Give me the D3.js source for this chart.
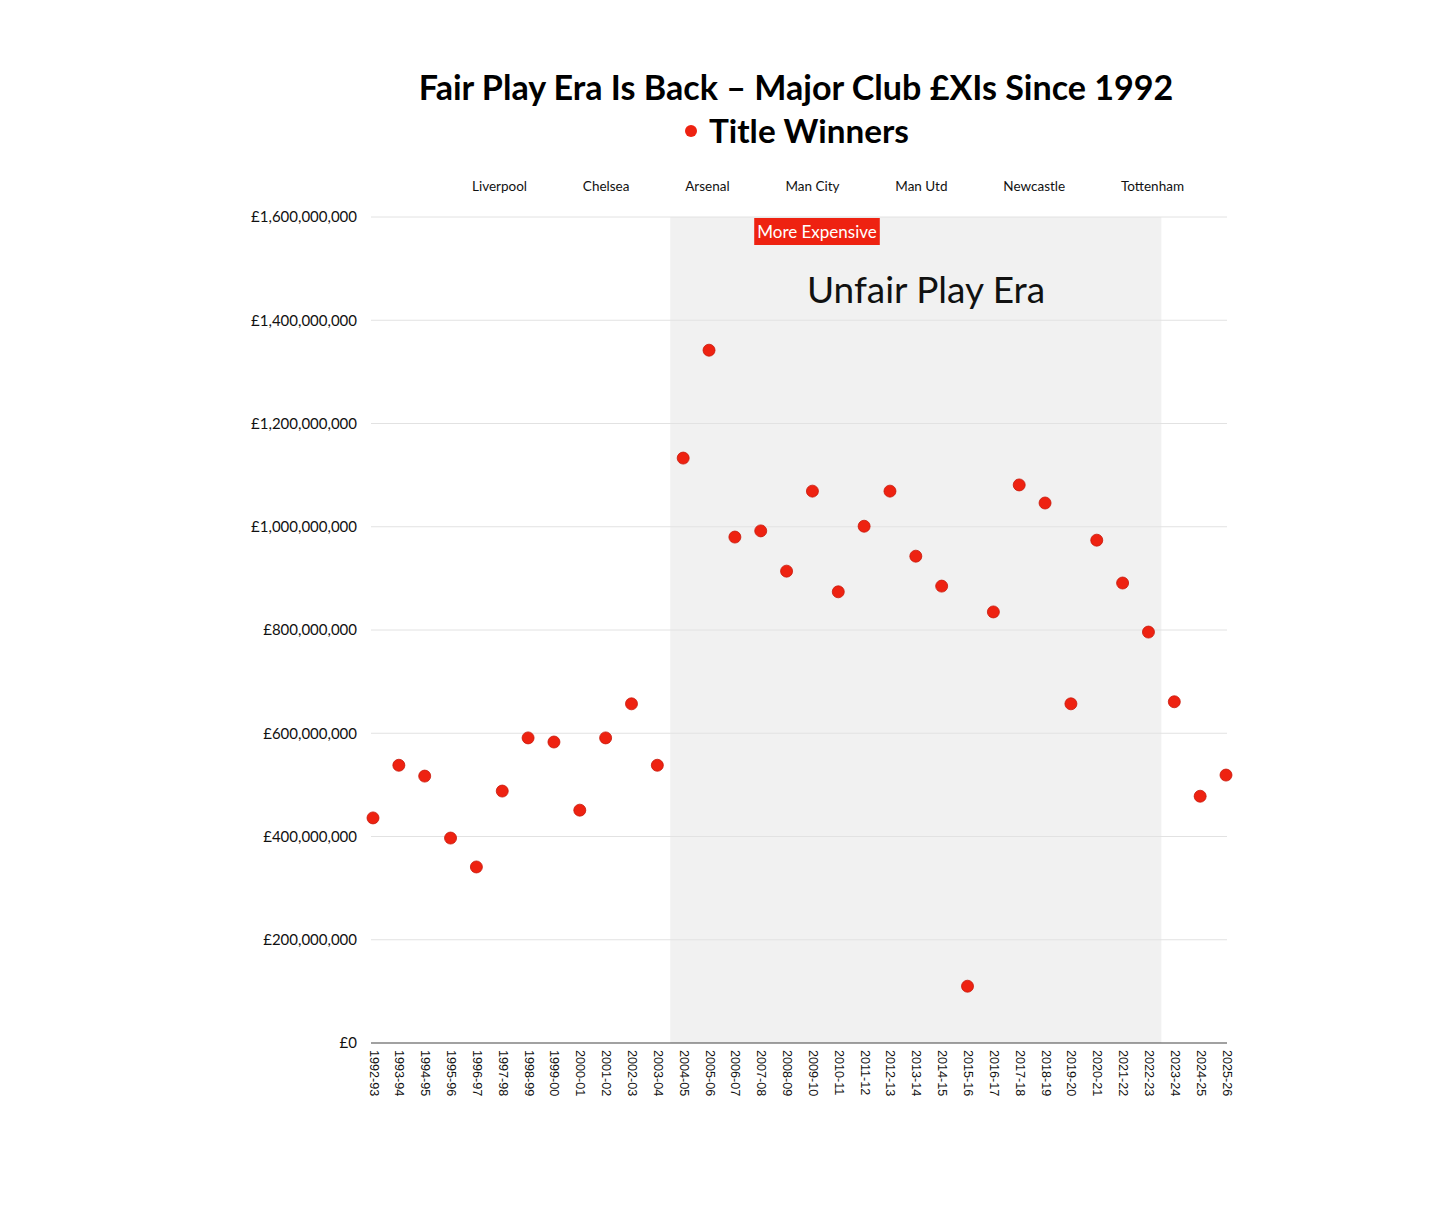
<!DOCTYPE html>
<html><head><meta charset="utf-8">
<script src="https://cdn.jsdelivr.net/npm/d3@7"></script>
<style>
html,body{margin:0;padding:0;background:#fff;}
svg{display:block;font-family:Lato,"Noto Sans",sans-serif;}
</style></head>
<body>
<svg id="chart" width="1456" height="1229"></svg>
<script>
const seasons = ["1992-93","1993-94","1994-95","1995-96","1996-97","1997-98","1998-99","1999-00","2000-01","2001-02","2002-03","2003-04","2004-05","2005-06","2006-07","2007-08","2008-09","2009-10","2010-11","2011-12","2012-13","2013-14","2014-15","2015-16","2016-17","2017-18","2018-19","2019-20","2020-21","2021-22","2022-23","2023-24","2024-25","2025-26"];
const xiValues = [436e6,538e6,517e6,397e6,341e6,488e6,591e6,583e6,451e6,591e6,657e6,538e6,1133e6,1342e6,980e6,992e6,914e6,1069e6,874e6,1001e6,1069e6,943e6,885e6,110e6,835e6,1081e6,1046e6,657e6,974e6,891e6,796e6,661e6,478e6,519e6];
const clubs = ["Liverpool","Chelsea","Arsenal","Man City","Man Utd","Newcastle","Tottenham"];
const yTicks = [0,200e6,400e6,600e6,800e6,1000e6,1200e6,1400e6,1600e6];
const eraStart = "2004-05", eraEnd = "2022-23";
const titleText = "Fair Play Era Is Back – Major Club £XIs Since 1992";
const seriesName = "Title Winners";
const eraLabel = "Unfair Play Era";
const badgeLabel = "More Expensive";

const svg = d3.select("#chart");
const m = {left:373, right:1226, top:217, bottom:1043};
const red = "#ee2211";

const x = d3.scalePoint().domain(seasons).range([m.left, m.right]);
const y = d3.scaleLinear().domain([0,1600e6]).range([m.bottom, m.top]);
const step = x.step();

// shaded era
svg.append("rect")
  .attr("x", x(eraStart) - step/2)
  .attr("y", y(1600e6))
  .attr("width", x(eraEnd) - x(eraStart) + step)
  .attr("height", y(0) - y(1600e6))
  .attr("fill", "#f1f1f1");

// gridlines
svg.append("g").selectAll("line").data(yTicks.filter(d=>d>0)).join("line")
  .attr("x1", m.left-2).attr("x2", m.right+1)
  .attr("y1", d=>y(d)).attr("y2", d=>y(d))
  .attr("stroke", "#e2e2e2").attr("stroke-width", 1);

// y axis labels
const fmt = d => "£" + d3.format(",")(d);
const yAxis = svg.append("g").attr("transform", `translate(${m.left-16},0)`)
  .call(d3.axisLeft(y).tickValues(yTicks).tickFormat(fmt).tickSize(0).tickPadding(0));
yAxis.select(".domain").remove();
yAxis.selectAll("text").attr("font-size", 15).attr("fill", "#111").attr("font-family","Lato,sans-serif");

// x axis
const xAxis = svg.append("g").attr("transform", `translate(0,${m.bottom})`)
  .call(d3.axisBottom(x).tickSize(0).tickPadding(0));
xAxis.select(".domain").attr("stroke", "#444").attr("stroke-width", 1.2)
  .attr("d", `M${m.left-2},0H${m.right+1}`);
xAxis.selectAll("text")
  .attr("font-size", 12.6).attr("fill", "#111")
  .attr("text-anchor", "start")
  .attr("dy", null)
  .attr("transform", "translate(-4,7) rotate(90)")
  .attr("x", 0).attr("y", 0);

// dots
svg.append("g").selectAll("circle").data(seasons.map((s,i)=>({s, v:xiValues[i]}))).join("circle")
  .attr("cx", d=>x(d.s)).attr("cy", d=>y(d.v))
  .attr("r", 6).attr("fill", red).attr("stroke", "#c8180a").attr("stroke-width", 0.8);

// title
const title = svg.append("text").attr("x", 796).attr("y", 100)
  .attr("text-anchor","middle").attr("font-weight",700).attr("font-size",32).attr("fill","#000")
  .text(titleText);
let tw = title.node().getComputedTextLength();
title.attr("font-size", 32*755/tw);

// legend line
const leg = svg.append("g");
const legText = leg.append("text").attr("y", 143).attr("font-weight",700).attr("font-size",30).attr("fill","#000").text(seriesName);
let lw = legText.node().getComputedTextLength();
legText.attr("font-size", 30*200/lw).attr("x", 709);
leg.append("circle").attr("cx", 691).attr("cy", 131).attr("r", 6).attr("fill", red);

// club labels (laid out like legend items across a span)
const clubG = svg.append("g");
const clubTexts = clubs.map(c => clubG.append("text").attr("y", 191).attr("font-size", 13.5).attr("fill","#111").text(c));
const widths = clubTexts.map(t => t.node().getComputedTextLength());
const spanL = 472, spanR = 1184;
const gap = (spanR - spanL - d3.sum(widths)) / (clubs.length - 1);
let cx = spanL;
clubTexts.forEach((t,i) => { t.attr("x", cx); cx += widths[i] + gap; });

// era label
svg.append("text").attr("x", 926).attr("y", 303).attr("text-anchor","middle")
  .attr("font-size", 37).attr("fill","#111").text(eraLabel);

// badge
const bx = 817;
const badge = svg.append("g");
const brect = badge.append("rect").attr("fill", red);
const bt = badge.append("text").attr("x", bx).attr("y", 238).attr("text-anchor","middle")
  .attr("font-size", 17).attr("fill","#fff").text(badgeLabel);
const bw = bt.node().getComputedTextLength();
brect.attr("x", bx - bw/2 - 3).attr("y", 218).attr("width", bw+6).attr("height", 27);
</script>
</body></html>
